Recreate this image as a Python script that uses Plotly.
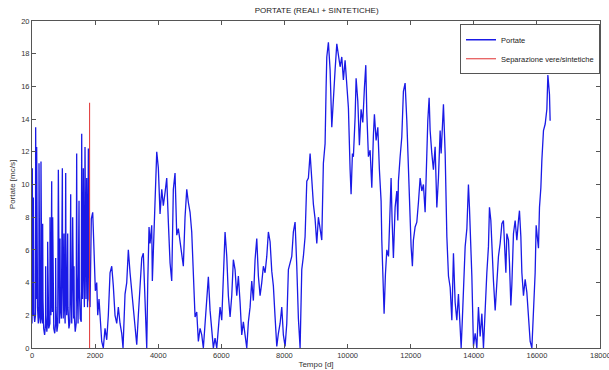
import plotly.graph_objects as go

# ---- data ----
real_days = [0, 5, 10, 18, 25, 42, 50, 60, 85, 110, 116, 125, 140, 148, 158, 175, 200, 218, 222, 232,
             250, 270, 280, 285, 295, 315, 335, 338, 348, 370, 400, 430, 433, 442, 470, 493, 496, 506,
             530, 568, 571, 580, 600, 624, 632, 645, 655, 665, 690, 720, 747, 750, 760, 790, 815, 835,
             845, 870, 888, 898, 930, 962, 970, 990, 1014, 1022, 1050, 1068, 1078, 1100, 1131, 1140,
             1170, 1200, 1226, 1235, 1260, 1289, 1297, 1320, 1331, 1340, 1370, 1400, 1416, 1426, 1460,
             1490, 1500, 1530, 1560, 1575, 1585, 1600, 1627, 1637, 1660, 1680, 1690, 1710, 1733, 1743,
             1760, 1786, 1796, 1810, 1826]
real_flow = [1.5, 2.5, 11.0, 4.0, 2.0, 9.2, 3.5, 2.2, 1.6, 2.0, 13.5, 6.0, 3.0, 12.3, 5.0, 2.5, 1.5, 2.0, 11.3, 4.5,
             2.0, 1.5, 2.0, 11.4, 5.0, 1.8, 1.5, 7.6, 3.0, 1.2, 0.8, 1.5, 5.0, 2.0, 1.0, 1.6, 6.5, 2.5,
             1.2, 1.5, 8.0, 3.5, 2.0, 10.2, 4.0, 2.2, 8.0, 3.0, 1.2, 0.9, 1.5, 5.5, 2.5, 1.0, 1.4, 10.9,
             4.5, 1.5, 6.7, 2.5, 1.8, 11.0, 5.0, 1.8, 7.0, 3.0, 1.5, 10.7, 4.0, 2.0, 7.0, 2.5,
             1.2, 1.6, 9.4, 3.5, 1.5, 8.0, 3.0, 1.8, 5.0, 2.0, 1.0, 1.5, 11.9, 4.5, 1.5,
             9.0, 3.5, 1.8, 1.6, 13.1, 6.0, 3.0, 11.0, 5.0, 2.5, 12.3, 7.0, 3.0, 10.4, 4.5,
             2.5, 12.2, 5.0, 3.0, 2.8]

synth_days = [1839, 1880, 1924, 1965, 2007, 2051, 2083, 2124, 2178, 2209, 2260, 2314, 2368, 2419, 2473,
              2527, 2577, 2631, 2685, 2736, 2790, 2843, 2885, 2948, 3002, 3053, 3107, 3160, 3211, 3265,
              3319, 3370, 3424, 3478, 3528, 3582, 3636, 3668, 3709, 3741, 3794, 3814, 3899, 3953, 4004,
              4058, 4112, 4162, 4216, 4270, 4321, 4375, 4428, 4479, 4533, 4587, 4638, 4692, 4745, 4796,
              4850, 4904, 4955, 5009, 5062, 5113, 5167, 5221, 5272, 5326, 5379, 5430, 5484, 5538, 5589,
              5643, 5696, 5747, 5801, 5855, 5906, 5960, 6013, 6064, 6118, 6172, 6223, 6277, 6330, 6381,
              6435, 6489, 6540, 6594, 6647, 6698, 6752, 6806, 6857, 6911, 6964, 7015, 7069, 7123, 7174,
              7228, 7281, 7332, 7386, 7440, 7491, 7545, 7598, 7649, 7703, 7757, 7808, 7862, 7915, 7966,
              8020, 8074, 8125, 8179, 8232, 8283, 8337, 8391, 8442, 8496, 8549, 8600, 8654, 8708, 8759,
              8813, 8866, 8917, 8971, 9025, 9076, 9130, 9183, 9234, 9288, 9320, 9342, 9393, 9447, 9500,
              9551, 9605, 9659, 9710, 9764, 9817, 9868, 9922, 9976, 10027, 10081, 10112, 10154, 10185,
              10239, 10271, 10325, 10375, 10429, 10483, 10534, 10578, 10610, 10661, 10715, 10768, 10819,
              10851, 10905, 10959, 11009, 11063, 11085, 11117, 11158, 11200, 11244, 11298, 11349, 11380,
              11412, 11453, 11507, 11561, 11593, 11612, 11666, 11719, 11770, 11824, 11878, 11910, 11951,
              11983, 12014, 12055, 12087, 12141, 12195, 12246, 12300, 12353, 12404, 12458, 12512, 12543,
              12585, 12617, 12670, 12721, 12775, 12829, 12880, 12934, 12966, 13007, 13039, 13093, 13147,
              13198, 13252, 13305, 13356, 13409, 13463, 13514, 13568, 13600, 13641, 13673, 13727, 13781,
              13831, 13863, 13907, 13939, 13990, 14044, 14097, 14148, 14202, 14256, 14307, 14361, 14414,
              14465, 14497, 14541, 14573, 14624, 14678, 14731, 14782, 14836, 14890, 14940, 14972, 15017,
              15048, 15099, 15131, 15175, 15207, 15258, 15311, 15365, 15416, 15448, 15492, 15524, 15575,
              15628, 15682, 15733, 15787, 15841, 15892, 15945, 15977, 16018, 16050, 16082, 16126, 16158,
              16209, 16263, 16316, 16348, 16380, 16399, 16420]
synth_flow = [2.5, 7.9, 8.3, 6.0, 3.5, 4.0, 2.0, 3.0, 1.5, 0.4, 0.0, 1.2, 0.5, 2.0, 4.6,
              5.0, 3.8, 2.0, 1.5, 2.5, 1.5, 0.9, 0.0, 3.3, 4.0, 6.0, 4.6, 3.5, 2.5, 1.5,
              0.2, 2.0, 3.5, 5.5, 5.8, 3.0, 0.0, 4.0, 7.4, 6.4, 7.5, 4.1, 9.0, 12.0, 11.0,
              8.2, 9.7, 8.7, 9.5, 10.4, 7.7, 5.2, 4.1, 9.7, 10.7, 6.9, 7.3, 6.4, 5.8, 5.0,
              8.0, 9.7, 8.9, 8.3, 7.1, 4.0, 1.9, 2.2, 0.4, 1.2, 0.8, 0.0, 1.6, 2.9, 4.35,
              2.3, 0.8, 0.0, 0.6, 0.0, 1.2, 2.5, 1.7, 4.1, 7.1, 5.6, 3.2, 1.9, 3.2, 5.4,
              4.8, 3.2, 4.4, 2.8, 0.8, 1.6, 0.6, 0.0, 1.6, 2.5, 4.1, 2.9, 5.4, 6.7, 4.4,
              3.2, 4.0, 5.0, 4.6, 5.6, 7.1, 6.5, 4.7, 3.8, 1.9, 0.1, 0.9, 1.5, 2.5, 0.8,
              0.1, 1.5, 4.8, 5.2, 5.6, 7.1, 7.7, 5.0, 1.8, 0.0, 4.8, 5.6, 6.8, 10.2, 10.4,
              11.9, 10.3, 8.8, 7.9, 6.4, 8.0, 7.2, 6.6, 11.3, 12.5, 15.9, 17.8, 18.7, 17.0, 13.5,
              14.9, 17.0, 18.6, 18.0, 17.2, 17.8, 16.4, 17.6, 16.2, 14.7, 10.9, 9.4, 11.9, 11.7,
              14.1, 16.5, 15.1, 12.4, 14.6, 13.8, 15.9, 17.3, 14.4, 11.7, 12.1, 9.8, 13.0,
              14.3, 12.7, 13.5, 10.9, 9.0, 6.6, 3.7, 2.1, 4.5, 6.0, 5.6, 8.6, 10.4,
              7.8, 5.5, 8.6, 9.6, 7.8, 10.2, 11.7, 12.9, 15.7, 16.2, 13.9, 12.1, 10.3,
              7.4, 6.2, 5.0, 6.6, 7.4, 7.7, 8.9, 10.4, 9.6, 10.0, 8.3, 12.2, 13.9,
              15.3, 13.3, 11.9, 10.9, 12.3, 8.6, 10.4, 13.3, 11.9, 13.7, 14.9, 11.9, 6.8,
              4.4, 3.7, 1.7, 5.8, 2.8, 1.7, 3.3, 1.3, 0.0, 1.9, 3.9, 6.2, 7.3,
              10.0, 8.6, 6.5, 4.4, 0.1, 0.9, 0.0, 2.5, 0.7, 2.1, 0.0, 2.7, 4.6,
              6.2, 8.6, 7.8, 6.2, 4.1, 2.3, 3.9, 5.6, 6.4, 7.6, 7.8, 6.2, 4.6,
              7.0, 6.6, 5.2, 2.6, 3.9, 7.0, 7.8, 6.6, 7.8, 8.4, 6.8, 4.6, 3.2,
              4.2, 3.4, 1.8, 0.4, 0.0, 2.0, 4.6, 7.5, 6.7, 6.1, 8.6, 9.8, 11.5,
              13.3, 13.7, 14.6, 16.7, 16.1, 15.5, 13.9]

split_day = 1826
split_range = [0, 15]

x_ticks = [0, 2000, 4000, 6000, 8000, 10000, 12000, 14000, 16000, 18000]
y_ticks = [0, 2, 4, 6, 8, 10, 12, 14, 16, 18, 20]

font = "Liberation Sans, Arial, sans-serif"

fig = go.Figure()
fig.add_trace(go.Scatter(
    x=real_days + synth_days, y=real_flow + synth_flow,
    mode="lines", name="Portate",
    line=dict(color="#1a1ae6", width=1.3),
))
fig.add_trace(go.Scatter(
    x=[split_day, split_day], y=split_range,
    mode="lines", name="Separazione vere/sintetiche",
    line=dict(color="#e03030", width=1),
))

axis_common = dict(
    showgrid=False, zeroline=False, showline=True, linecolor="#555555", linewidth=1,
    mirror="ticks", ticks="inside", ticklen=4, tickcolor="#555555", automargin=False,
    tickfont=dict(family=font, size=7.5, color="#333333"),
)

fig.update_layout(
    width=609, height=370,
    margin=dict(l=32, r=9, t=21, b=22),
    paper_bgcolor="white", plot_bgcolor="white",
    title=dict(text="PORTATE (REALI + SINTETICHE)", x=0.52, xanchor="center",
               y=0.972, yanchor="middle", font=dict(family=font, size=8, color="#222222")),
    xaxis=dict(range=[0, 18000], tickvals=x_ticks, ticktext=[str(v) for v in x_ticks[:-1]] + [""],
               title=dict(text="Tempo [d]", font=dict(family=font, size=8, color="#333333"), standoff=2),
               **axis_common),
    yaxis=dict(range=[0, 20], tickvals=y_ticks, ticktext=[str(v) for v in y_ticks],
               title=dict(text="Portate [mc/s]", font=dict(family=font, size=8, color="#333333"), standoff=4),
               **axis_common),
    legend=dict(x=1.0, y=0.99, xanchor="right", yanchor="top",
                bgcolor="white", bordercolor="#555555", borderwidth=1,
                font=dict(family=font, size=7.5, color="#222222"),
                itemwidth=30, tracegroupgap=0),
    showlegend=True,
)

# last x tick label (cut off by the page edge in the original)
fig.add_annotation(x=x_ticks[-1], y=0, xref="x", yref="y", text=str(x_ticks[-1]),
                   showarrow=False, xanchor="center", yanchor="top", yshift=-1,
                   font=dict(family=font, size=7.5, color="#333333"))

fig.write_html("out.html")
